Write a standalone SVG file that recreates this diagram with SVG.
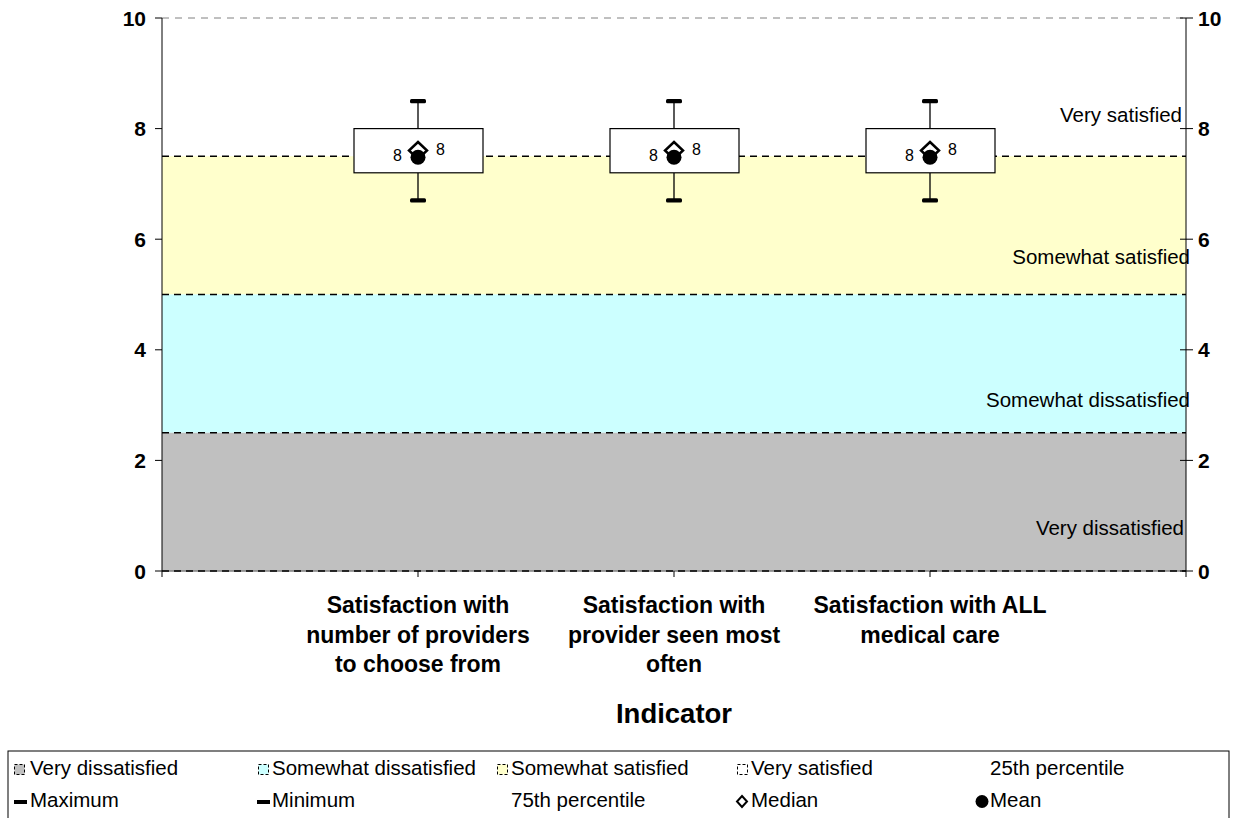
<svg xmlns="http://www.w3.org/2000/svg" width="1235" height="818" viewBox="0 0 1235 818">
<style>
.ax{font-family:"Liberation Sans",Arial,sans-serif;font-weight:bold;font-size:21px;fill:#000}
.band{font-family:"Liberation Sans",Arial,sans-serif;font-size:20.5px;fill:#000;text-anchor:end}
.cat{font-family:"Liberation Sans",Arial,sans-serif;font-weight:bold;font-size:23px;fill:#000;text-anchor:middle}
.ttl{font-family:"Liberation Sans",Arial,sans-serif;font-weight:bold;font-size:27.5px;fill:#000;text-anchor:middle}
.lg{font-family:"Liberation Sans",Arial,sans-serif;font-size:20.5px;fill:#000}
.dl{font-family:"Liberation Sans",Arial,sans-serif;font-size:16px;fill:#000}
.dash{stroke:#000;stroke-width:1.3;stroke-dasharray:7,5;fill:none}
.tick{stroke:#000;stroke-width:1}
.box{fill:#fff;stroke:#000;stroke-width:1.2}
.wh{stroke:#000;stroke-width:1.3}
.cap{fill:#000}
.med{fill:#fff;stroke:#000;stroke-width:2.5}
.mean{fill:#000}
.lm{stroke:#000;stroke-width:1;stroke-dasharray:3,2}
</style>
<rect width="1235" height="818" fill="#fff"/>
<g id="plot-bands">
<rect x="162" y="156.25" width="1024" height="138.25" fill="#FFFFCC"/>
<rect x="162" y="294.5" width="1024" height="138.25" fill="#CCFFFF"/>
<rect x="162" y="432.75" width="1024" height="138.25" fill="#C0C0C0"/>
<line x1="162" y1="18" x2="1186" y2="18" stroke="#808080" stroke-width="1" stroke-dasharray="7,6"/>
<line x1="162" y1="571" x2="1186" y2="571" stroke="#808080" stroke-width="1.3"/>
<line class="dash" x1="162" y1="156.25" x2="1186" y2="156.25"/>
<line class="dash" x1="162" y1="294.5" x2="1186" y2="294.5"/>
<line class="dash" x1="162" y1="432.75" x2="1186" y2="432.75"/>
<line class="dash" x1="162" y1="571" x2="1186" y2="571"/>
</g>
<g id="axes">
<line class="tick" x1="162" y1="18" x2="162" y2="577"/>
<line class="tick" x1="1186" y1="18" x2="1186" y2="577"/>
<line class="tick" x1="155" y1="18" x2="162" y2="18"/>
<line class="tick" x1="155" y1="128.6" x2="162" y2="128.6"/>
<line class="tick" x1="155" y1="239.2" x2="162" y2="239.2"/>
<line class="tick" x1="155" y1="349.8" x2="162" y2="349.8"/>
<line class="tick" x1="155" y1="460.4" x2="162" y2="460.4"/>
<line class="tick" x1="155" y1="571" x2="162" y2="571"/>
<line class="tick" x1="1180" y1="18" x2="1193" y2="18"/>
<line class="tick" x1="1180" y1="128.6" x2="1193" y2="128.6"/>
<line class="tick" x1="1180" y1="239.2" x2="1193" y2="239.2"/>
<line class="tick" x1="1180" y1="349.8" x2="1193" y2="349.8"/>
<line class="tick" x1="1180" y1="460.4" x2="1193" y2="460.4"/>
<line class="tick" x1="1180" y1="571" x2="1193" y2="571"/>
<line class="tick" x1="418" y1="571" x2="418" y2="577"/>
<line class="tick" x1="674" y1="571" x2="674" y2="577"/>
<line class="tick" x1="930" y1="571" x2="930" y2="577"/>
<g class="ax" text-anchor="end">
<text x="146" y="25.5">10</text>
<text x="146" y="136">8</text>
<text x="146" y="246.5">6</text>
<text x="146" y="357">4</text>
<text x="146" y="467.5">2</text>
<text x="146" y="578.5">0</text>
</g>
<g class="ax">
<text x="1198" y="25.5">10</text>
<text x="1198" y="136">8</text>
<text x="1198" y="246.5">6</text>
<text x="1198" y="357">4</text>
<text x="1198" y="467.5">2</text>
<text x="1198" y="578.5">0</text>
</g>
<text class="band" x="1182" y="122">Very satisfied</text>
<text class="band" x="1190" y="264">Somewhat satisfied</text>
<text class="band" x="1190" y="407">Somewhat dissatisfied</text>
<text class="band" x="1184" y="535">Very dissatisfied</text>
<text class="cat" x="418" y="613">Satisfaction with</text>
<text class="cat" x="418" y="642.5">number of providers</text>
<text class="cat" x="418" y="672">to choose from</text>
<text class="cat" x="674" y="613">Satisfaction with</text>
<text class="cat" x="674" y="642.5">provider seen most</text>
<text class="cat" x="674" y="672">often</text>
<text class="cat" x="930" y="613">Satisfaction with ALL</text>
<text class="cat" x="930" y="642.5">medical care</text>
<text class="ttl" x="674" y="723">Indicator</text>
</g>
<g id="connectors">
<line class="wh" x1="418" y1="101" x2="418" y2="128.6"/>
<line class="wh" x1="418" y1="172.8" x2="418" y2="200.5"/>
<line class="wh" x1="674" y1="101" x2="674" y2="128.6"/>
<line class="wh" x1="674" y1="172.8" x2="674" y2="200.5"/>
<line class="wh" x1="930" y1="101" x2="930" y2="128.6"/>
<line class="wh" x1="930" y1="172.8" x2="930" y2="200.5"/>
</g>
<g id="box1">
<rect class="box" x="354" y="128.6" width="129" height="44.2"/>
<rect class="cap" x="410" y="99" width="16" height="4.2" rx="1.5"/>
<rect class="cap" x="410" y="198.3" width="16" height="4.2" rx="1.5"/>
<polygon class="med" points="418,142 427,150.5 418,159 409,150.5"/>
<circle class="mean" cx="418" cy="157.3" r="7.5"/>
<text class="dl" x="402" y="161" text-anchor="end">8</text>
<text class="dl" x="436" y="155">8</text>
</g>
<g id="box2">
<rect class="box" x="610" y="128.6" width="129" height="44.2"/>
<rect class="cap" x="666" y="99" width="16" height="4.2" rx="1.5"/>
<rect class="cap" x="666" y="198.3" width="16" height="4.2" rx="1.5"/>
<polygon class="med" points="674,142 683,150.5 674,159 665,150.5"/>
<circle class="mean" cx="674" cy="157.3" r="7.5"/>
<text class="dl" x="658" y="161" text-anchor="end">8</text>
<text class="dl" x="692" y="155">8</text>
</g>
<g id="box3">
<rect class="box" x="866" y="128.6" width="129" height="44.2"/>
<rect class="cap" x="922" y="99" width="16" height="4.2" rx="1.5"/>
<rect class="cap" x="922" y="198.3" width="16" height="4.2" rx="1.5"/>
<polygon class="med" points="930,142 939,150.5 930,159 921,150.5"/>
<circle class="mean" cx="930" cy="157.3" r="7.5"/>
<text class="dl" x="914" y="161" text-anchor="end">8</text>
<text class="dl" x="948" y="155">8</text>
</g>
<g id="legend">
<rect x="8" y="751" width="1221" height="90" fill="#fff" stroke="#000" stroke-width="1"/>
<rect class="lm" x="14.5" y="764.5" width="10" height="10" fill="#C0C0C0"/>
<text class="lg" x="30" y="775">Very dissatisfied</text>
<rect class="lm" x="258.5" y="764.5" width="10" height="10" fill="#CCFFFF"/>
<text class="lg" x="272" y="775">Somewhat dissatisfied</text>
<rect class="lm" x="497.5" y="764.5" width="10" height="10" fill="#FFFFCC"/>
<text class="lg" x="511" y="775">Somewhat satisfied</text>
<rect class="lm" x="737.5" y="764.5" width="10" height="10" fill="#fff"/>
<text class="lg" x="751" y="775">Very satisfied</text>
<text class="lg" x="990" y="775">25th percentile</text>
<rect x="14" y="800" width="13" height="4" fill="#000"/>
<text class="lg" x="30" y="807">Maximum</text>
<rect x="257" y="800" width="13" height="4" fill="#000"/>
<text class="lg" x="272" y="807">Minimum</text>
<text class="lg" x="511" y="807">75th percentile</text>
<polygon points="742,796 747,801.5 742,807 737,801.5" fill="#fff" stroke="#000" stroke-width="2"/>
<text class="lg" x="751" y="807">Median</text>
<circle cx="982" cy="801.5" r="6.5" fill="#000"/>
<text class="lg" x="990" y="807">Mean</text>
</g>
</svg>
